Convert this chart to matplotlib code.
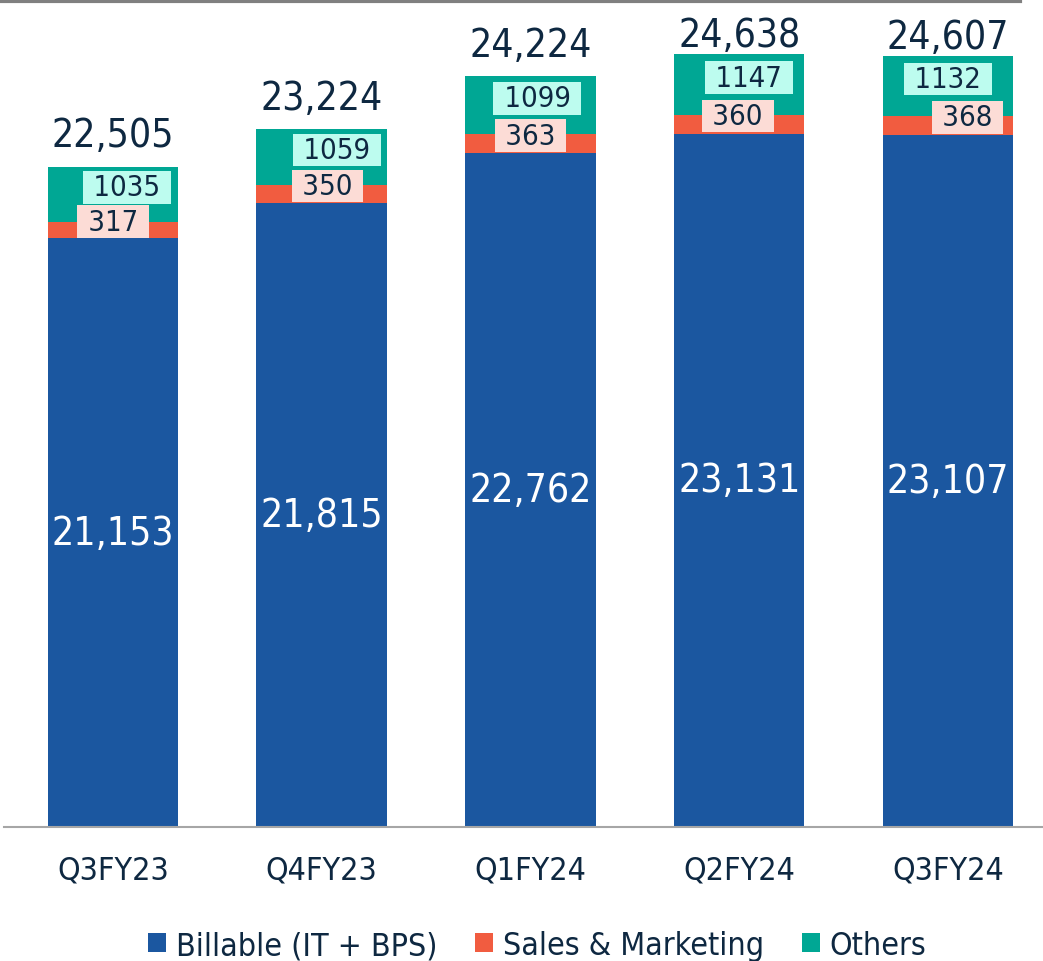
import matplotlib.pyplot as plt
import numpy as np

# Headcount by quarter
quarters = ['Q3FY23', 'Q4FY23', 'Q1FY24', 'Q2FY24', 'Q3FY24']
billable = [21153, 21815, 22762, 23131, 23107]
sales_mkt = [317, 350, 363, 360, 368]
others = [1035, 1059, 1099, 1147, 1132]
totals = [22505, 23224, 24224, 24638, 24607]

c_blue = '#1b57a0'
c_orange = '#f15c40'
c_teal = '#00a794'
c_text = '#0e2841'

plt.rcParams['font.family'] = ['DejaVu Sans']
plt.rcParams['font.stretch'] = 'condensed'

fig = plt.figure(figsize=(10.43, 9.62), dpi=100)
ax = fig.add_axes([4 / 1043, 134 / 962, 1039 / 1043, 826 / 962])

x = np.arange(len(quarters))
w = 0.625
b = np.array(billable)
s = np.array(sales_mkt)
o = np.array(others)

ax.bar(x, b, w, color=c_blue, label='Billable (IT + BPS)')
ax.bar(x, s, w, bottom=b, color=c_orange, label='Sales & Marketing')
ax.bar(x, o, w, bottom=b + s, color=c_teal, label='Others')

ymin = 10000
ax.set_ylim(ymin, 25650)
ax.set_xlim(-0.522, 4.455)

# label nudges (points) as placed in the original slide
dx_sm = [0, 4, 0, -1, 14]
dx_ot = [10, 11, 5, 7, 0]
dy_tot = [9, 9, 9, 0, 0]   # last two are pushed down by the plot top

for i in range(len(quarters)):
    ax.text(x[i], (ymin + b[i]) / 2, f'{billable[i]:,}', ha='center', va='center',
            color='white', fontsize=28)
    ax.annotate(f' {sales_mkt[i]} ', (x[i], b[i] + s[i] / 2), xytext=(dx_sm[i], 6),
                textcoords='offset points', ha='center', va='center',
                color=c_text, fontsize=21,
                bbox=dict(boxstyle='square,pad=0.08', fc='#fcdcd6', ec='none'))
    ax.annotate(f' {others[i]} ', (x[i], b[i] + s[i] + o[i] / 2), xytext=(dx_ot[i], 5),
                textcoords='offset points', ha='center', va='center',
                color=c_text, fontsize=21,
                bbox=dict(boxstyle='square,pad=0.08', fc='#bdfcef', ec='none'))
    ax.annotate(f'{totals[i]:,}', (x[i], totals[i]), xytext=(0, dy_tot[i]),
                textcoords='offset points', ha='center', va='bottom',
                color=c_text, fontsize=28)

ax.set_xticks(x)
ax.set_xticklabels(quarters, fontsize=23, color=c_text)
ax.tick_params(axis='x', length=0, pad=20)
ax.set_yticks([])
for sp in ['top', 'right', 'left']:
    ax.spines[sp].set_visible(False)
ax.spines['bottom'].set_color('#a6a6a6')
ax.spines['bottom'].set_linewidth(1.5)

# top rule
fig.add_artist(plt.Line2D([0, 1020 / 1043], [0.998, 0.998], color='#808080', lw=3))

fig.legend(loc='lower center', bbox_to_anchor=(0.515, -0.03), ncol=3, frameon=False,
           fontsize=23, handlelength=0.55, handleheight=0.55, handletextpad=0.3,
           columnspacing=1.2, labelcolor=c_text)

fig.savefig('out.png', dpi=100)
